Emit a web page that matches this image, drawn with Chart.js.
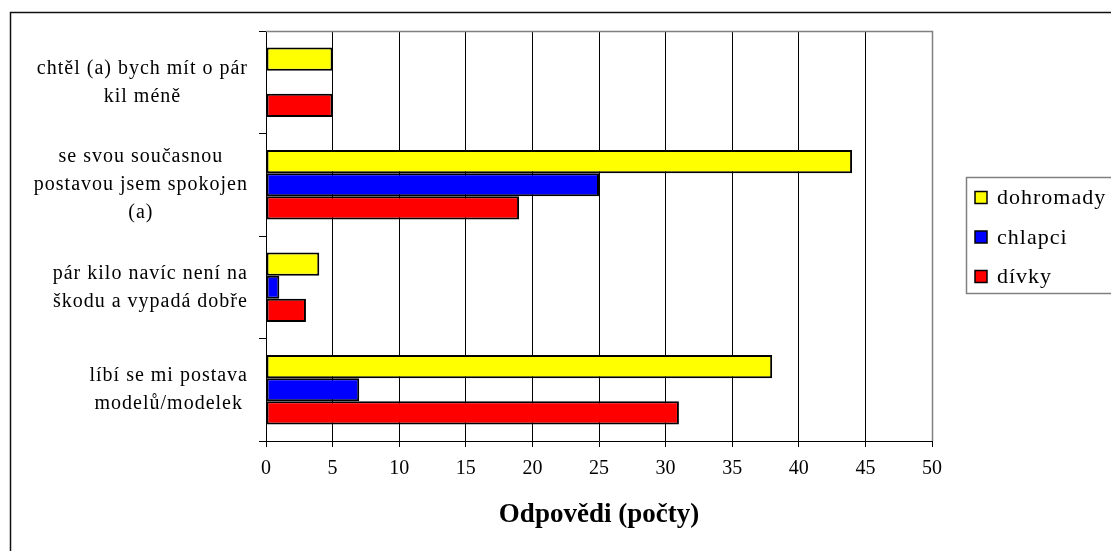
<!DOCTYPE html>
<html lang="cs">
<head>
    <meta charset="UTF-8">
    <title>Odpovědi (počty)</title>
    <script src="https://cdn.jsdelivr.net/npm/chart.js"></script>
    <style>
        body { margin: 0; background: #fff; }
        canvas { display: block; }
    </style>
</head>
<body>
    <canvas id="chart" width="1111" height="551"></canvas>
    <script>
        // data
        const categories = [
            ['chtěl (a) bych mít o pár', 'kil méně'],
            ['se svou současnou', 'postavou jsem spokojen', '(a)'],
            ['pár kilo navíc není na', 'škodu a vypadá dobře'],
            ['líbí se mi postava', 'modelů/modelek']
        ];
        const seriesNames = ['dohromady', 'chlapci', 'dívky'];
        const dohromady = [5, 44, 4, 38];
        const chlapci = [0, 25, 1, 7];
        const divky = [5, 19, 3, 31];
        const xTicks = [0, 5, 10, 15, 20, 25, 30, 35, 40, 45, 50];
        const axisTitle = 'Odpovědi (počty)';

        const serif = '"Liberation Serif", "Times New Roman", serif';
        const colors = ['#ffff00', '#0000ff', '#ff0000'];

        // outer frame, plot box edges, category labels and the boxed legend
        const decorations = {
            id: 'decorations',
            afterDraw(chart) {
                const ctx = chart.ctx;
                const area = chart.chartArea;
                ctx.save();

                ctx.strokeStyle = '#111';
                ctx.lineWidth = 1.5;
                ctx.beginPath();
                ctx.moveTo(10.5, 551);
                ctx.lineTo(10.5, 12.5);
                ctx.lineTo(1111, 12.5);
                ctx.stroke();

                ctx.strokeStyle = '#808080';
                ctx.lineWidth = 1.5;
                ctx.beginPath();
                ctx.moveTo(area.left, area.top + 0.5);
                ctx.lineTo(area.right + 0.5, area.top + 0.5);
                ctx.lineTo(area.right + 0.5, area.bottom);
                ctx.stroke();

                // category labels: each block right-aligned, lines centred inside it
                const yScale = chart.scales.y;
                ctx.font = '20px ' + serif;
                ctx.letterSpacing = '1px';
                ctx.fillStyle = '#000';
                ctx.textAlign = 'center';
                ctx.textBaseline = 'middle';
                const rightEdge = yScale.right - 18;
                categories.forEach((lines, i) => {
                    const yc = yScale.getPixelForTick(i);
                    const widest = Math.max(...lines.map(l => ctx.measureText(l).width));
                    const xc = rightEdge - widest / 2;
                    lines.forEach((line, j) => {
                        ctx.fillText(line, xc, yc + (j - (lines.length - 1) / 2) * 28);
                    });
                });

                // legend
                const lx = 966.5, ly = 177.5;
                ctx.strokeStyle = '#808080';
                ctx.lineWidth = 1.5;
                ctx.strokeRect(lx, ly, 200, 116);
                ctx.font = '22px ' + serif;
                ctx.textAlign = 'left';
                chart.data.datasets.forEach((ds, i) => {
                    const cy = 197.5 + i * 39.5;
                    ctx.fillStyle = ds.backgroundColor;
                    ctx.fillRect(975, cy - 6, 12, 12);
                    ctx.strokeStyle = '#000';
                    ctx.lineWidth = 1.5;
                    ctx.strokeRect(975, cy - 6, 12, 12);
                    ctx.fillStyle = '#000';
                    ctx.fillText(ds.label, 997, cy + 1);
                });

                ctx.restore();
            }
        };

        const ctx = document.getElementById('chart').getContext('2d');
        new Chart(ctx, {
            type: 'bar',
            data: {
                labels: categories,
                datasets: [dohromady, chlapci, divky].map((values, i) => ({
                    label: seriesNames[i],
                    data: values,
                    backgroundColor: colors[i],
                    borderColor: '#000',
                    borderWidth: 2,
                    borderSkipped: false,
                    categoryPercentage: 0.68,
                    barPercentage: 1
                }))
            },
            options: {
                indexAxis: 'y',
                responsive: false,
                animation: false,
                layout: {
                    padding: { top: 31, right: 179, bottom: 0, left: 0 }
                },
                plugins: {
                    legend: { display: false },
                    tooltip: { enabled: false }
                },
                scales: {
                    x: {
                        min: xTicks[0],
                        max: xTicks[xTicks.length - 1],
                        ticks: {
                            stepSize: xTicks[1] - xTicks[0],
                            padding: 10,
                            color: '#000',
                            font: { family: serif, size: 20 }
                        },
                        grid: {
                            color: c => (c.tick && c.tick.value === xTicks[xTicks.length - 1]) ? '#808080' : '#000',
                            tickColor: '#000',
                            lineWidth: 1,
                            tickLength: 6
                        },
                        border: { color: '#000', width: 1 },
                        title: {
                            display: true,
                            text: axisTitle,
                            color: '#000',
                            font: { family: serif, size: 27, weight: 'bold' },
                            padding: { top: 0, bottom: 20 }
                        },
                        afterFit: s => { s.height = 110; }
                    },
                    y: {
                        ticks: { display: false },
                        grid: {
                            drawOnChartArea: false,
                            offset: true,
                            color: '#000',
                            tickLength: 7
                        },
                        border: { color: '#000', width: 1 },
                        afterFit: s => { s.width = 266; }
                    }
                }
            },
            plugins: [decorations]
        });
    </script>
</body>
</html>
